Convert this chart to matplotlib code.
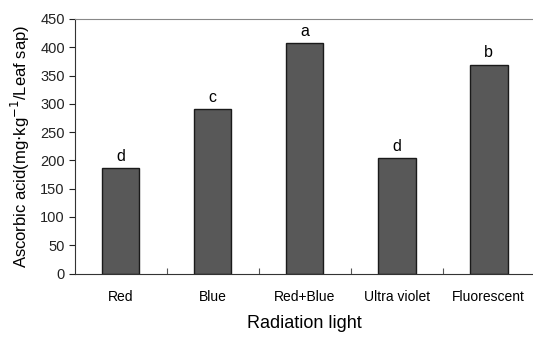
import matplotlib
matplotlib.use("Agg")
import matplotlib.pyplot as plt
import numpy as np

# 광원별 아스코르브산 함량
lights = ["Red", "Blue", "Red+Blue", "Ultra violet", "Fluorescent"]
ascorbic = [186, 290, 407, 204, 369]
letters = ["d", "c", "a", "d", "b"]


def main():
    plt.rcParams['font.family'] = ['Liberation Sans', 'DejaVu Sans']

    fig = plt.figure(figsize=(5.33, 3.38), dpi=100)
    ax = fig.add_axes([0.1398, 0.1908, 0.8634, 0.753])

    x = np.arange(len(lights))
    ax.bar(x, ascorbic, width=0.41, color='#585858', edgecolor='#1a1a1a', linewidth=1.0)

    for xi, v, s in zip(x, ascorbic, letters):
        ax.text(xi, v + 8, s, ha='center', va='bottom', fontsize=11.5)

    ax.set_xlim(-0.5, len(lights) - 0.5)
    ax.set_ylim(0, 450)
    ax.set_yticks(np.arange(0, 451, 50))
    ax.tick_params(axis='y', direction='out', length=4, width=0.8, labelsize=10.5, pad=3, colors='#222222')

    ax.set_xticks(x)
    ax.set_xticklabels(lights)
    ax.tick_params(axis='x', which='major', length=0, labelsize=10, pad=12)
    ax.set_xticks(x[:-1] + 0.5, minor=True)
    ax.tick_params(axis='x', which='minor', direction='in', length=4, width=0.8, color='#555555')

    ax.spines['right'].set_visible(False)
    ax.spines['top'].set_color('#888888')
    ax.spines['left'].set_color('#333333')
    ax.spines['bottom'].set_color('#333333')

    ax.set_xlabel('Radiation light', fontsize=13, labelpad=8)
    ax.set_ylabel(r'Ascorbic acid(mg$\cdot$kg$^{-1}$/Leaf sap)', fontsize=12, labelpad=6)

    fig.savefig('out.png', dpi=100)


if __name__ == "__main__":
    main()
